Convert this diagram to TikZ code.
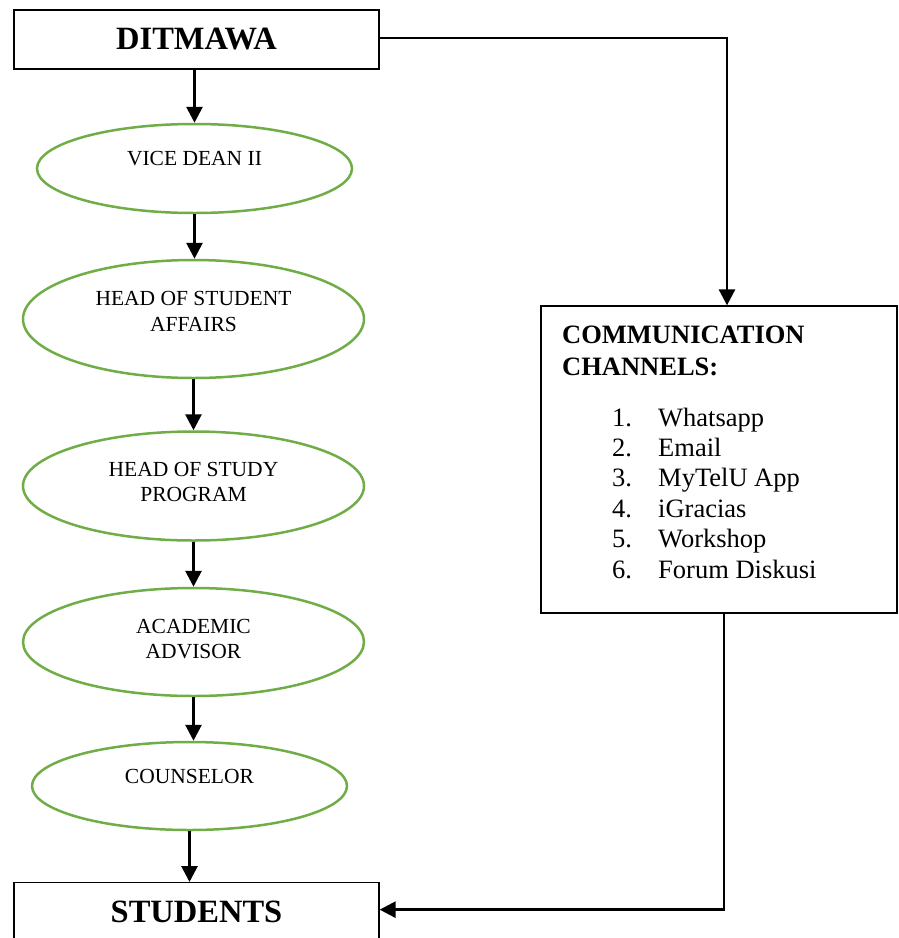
\documentclass[tikz,border=0pt]{standalone}
\usepackage{fontspec}
\setmainfont{Liberation Serif}
\usetikzlibrary{positioning}
\usetikzlibrary{shapes.geometric}
\usetikzlibrary{arrows.meta}
\definecolor{leafgreen}{RGB}{112,173,71}

\tikzset{
  boxnode/.style={draw, line width=1.3pt, rectangle, inner sep=0pt},
  oval/.style={draw=leafgreen, line width=2.5pt, ellipse, inner sep=0pt},
  ovaltext/.style={font=\fontsize{21.5}{25.7}\selectfont, align=center, inner sep=0pt},
  bigtext/.style={font=\fontsize{32.5}{36}\selectfont\bfseries},
  headtext/.style={font=\fontsize{26.5}{31.5}\selectfont\bfseries, align=left, inner sep=0pt},
  listtext/.style={font=\fontsize{26.5}{30.4}\selectfont, inner sep=0pt},
  flow/.style={line width=2.8pt, -{Triangle[length=16pt,width=16pt]}},
}

\begin{document}
\begin{tikzpicture}[x=1pt, y=-1pt]
  \useasboundingbox (0,0) rectangle (898,938);

  \node[boxnode, minimum width=365, minimum height=59, bigtext] (dit) at (196.5,39.5) {DITMAWA};

  \node[oval, minimum width=315, minimum height=89] (vd) at (194.5,168.5) {};
  \node[ovaltext] (vdt) at ([yshift=9.5]vd.center) {VICE DEAN II};
  \node[oval, minimum width=341, minimum height=118] (hsa) at (193.5,319) {};
  \node[ovaltext] (hsat) at ([yshift=7.3]hsa.center) {HEAD OF STUDENT\\AFFAIRS};
  \node[oval, minimum width=341, minimum height=109] (hsp) at (193.5,486) {};
  \node[ovaltext] (hspt) at ([yshift=4]hsp.center) {HEAD OF STUDY\\PROGRAM};
  \node[oval, minimum width=341, minimum height=108] (aa) at (193.5,642) {};
  \node[ovaltext] (aat) at ([yshift=3]aa.center) {ACADEMIC\\ADVISOR};
  \node[oval, minimum width=315, minimum height=88] (cs) at (189.5,786) {};
  \node[ovaltext] (cst) at ([yshift=9.7]cs.center) {COUNSELOR};

  \node[boxnode, minimum width=365, minimum height=58, bigtext, anchor=north] (stu) at (196.5,882) {STUDENTS};

  % communication channels
  \node[boxnode, minimum width=356, minimum height=307] (comm) at (719,459.5) {};
  \node[headtext, anchor=base west] (commhead) at (562,375) {COMMUNICATION\\CHANNELS:};
  \foreach \ch [count=\n] in {Whatsapp, Email, MyTelU App, iGracias, Workshop, Forum Diskusi}
    {\node[listtext, anchor=base west] (num\n) at (612,{426+30.4*(\n-1)}) {\n.};
     \node[listtext, anchor=base west] (ch\n) at (658,{426+30.4*(\n-1)}) {\ch};}

  % arrows
  \draw[flow] (vd.north |- dit.south) -- (vd.north);
  \draw[flow] (vd.south) -- (vd.south |- hsa.north);
  \draw[flow] (hsa.south) -- (hsa.south |- hsp.north);
  \draw[flow] (hsp.south) -- (hsp.south |- aa.north);
  \draw[flow] (aa.south) -- (aa.south |- cs.north);
  \draw[flow] (cs.south) -- (cs.south |- stu.north);
  \draw[flow] ([yshift=1.5]dit.east) -| ([xshift=8]comm.north);
  \draw[flow] ([xshift=5]comm.south) |- ([yshift=2]stu.east);
\end{tikzpicture}
\end{document}
